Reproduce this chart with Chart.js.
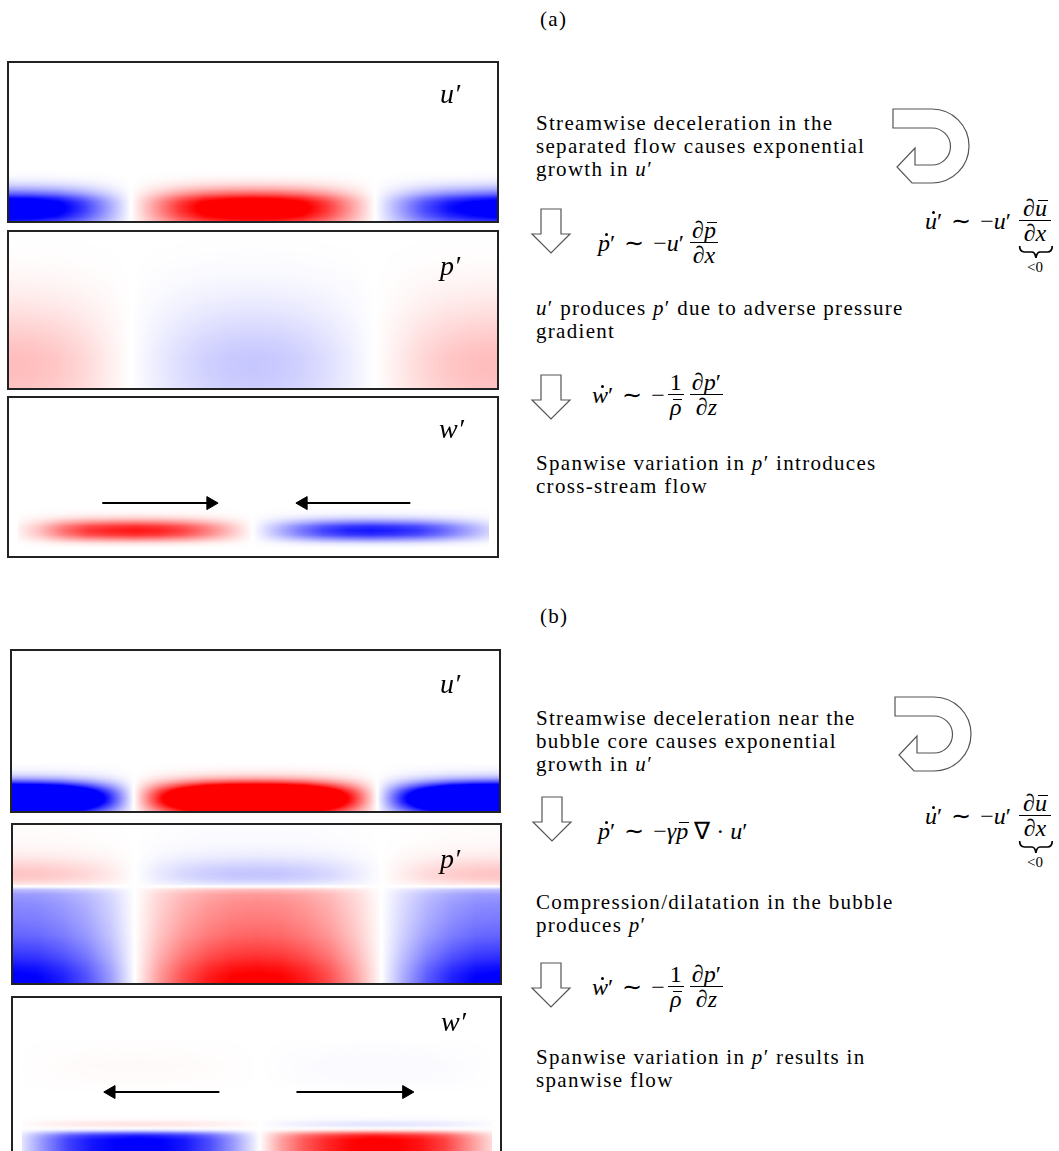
<!DOCTYPE html>
<html>
<head>
<meta charset="utf-8">
<script src="https://cdn.jsdelivr.net/npm/chart.js@4.4.0/dist/chart.umd.min.js"></script>
<style>
body{margin:0;background:#fff;width:1059px;height:1151px;overflow:hidden;position:relative;font-family:"Liberation Serif",serif;color:#000}
.panel{position:absolute;border:2px solid #222;box-sizing:border-box;background:#fff}
.panel canvas{display:block}
.lbl{position:absolute;font-style:italic;font-size:28px;line-height:28px}
.txt{position:absolute;font-size:21px;line-height:23px;letter-spacing:1.3px;white-space:nowrap}
.eq{position:absolute;display:flex;align-items:center;font-family:"Liberation Serif",serif;font-size:24px;line-height:26px;white-space:nowrap}
.fr{display:inline-flex;flex-direction:column;align-items:stretch;text-align:center}
.fr>span{line-height:24px;padding:0 2px}
.fr .num{border-bottom:1px solid #000}
.rel{margin:0 9px}
.acc{position:relative;display:inline-block}
.acc .dot{position:absolute;width:3px;height:3px;border-radius:50%;background:#000;top:3px;left:55%}
.acc .bar{position:absolute;height:0;border-top:1px solid #000;top:4px;left:22%;right:-6%}
.ub{position:relative;display:inline-flex;margin-left:8px}
.ub .fr>span{padding:0 4px}
.ub svg{position:absolute;left:-1px;top:100%;width:calc(100% + 4px);height:14px}
.ub .lt{position:absolute;top:calc(100% + 14px);left:0;right:0;text-align:center;font-size:15px;line-height:16px}
#deco{position:absolute;left:0;top:0}
</style>
</head>
<body>

<div class="txt" style="left:540px;top:8px">(a)</div>
<div class="txt" style="left:540px;top:605px">(b)</div>

<div class="panel" style="left:7px;top:61px;width:492px;height:162px"><canvas id="au" width="488" height="158"></canvas><div class="lbl" style="left:431px;top:17px">u′</div></div>
<div class="panel" style="left:7px;top:230px;width:492px;height:160px"><canvas id="ap" width="488" height="156"></canvas><div class="lbl" style="left:431px;top:20px">p′</div></div>
<div class="panel" style="left:7px;top:396px;width:492px;height:162px"><canvas id="aw" width="488" height="158"></canvas><div class="lbl" style="left:430px;top:17px">w′</div></div>

<div class="panel" style="left:10px;top:649px;width:491px;height:164px"><canvas id="bu" width="487" height="160"></canvas><div class="lbl" style="left:428px;top:19px">u′</div></div>
<div class="panel" style="left:11px;top:823px;width:491px;height:162px"><canvas id="bp" width="487" height="158"></canvas><div class="lbl" style="left:427px;top:20px">p′</div></div>
<div class="panel" style="left:11px;top:996px;width:491px;height:166px"><canvas id="bw" width="487" height="162"></canvas><div class="lbl" style="left:428px;top:10px">w′</div></div>

<div class="txt" style="left:536px;top:112px">Streamwise deceleration in the<br>separated flow causes exponential<br>growth in <i>u</i>′</div>
<div class="txt" style="left:536px;top:297px"><i>u</i>′ produces <i>p</i>′ due to adverse pressure<br>gradient</div>
<div class="txt" style="left:536px;top:452px">Spanwise variation in <i>p</i>′ introduces<br>cross-stream flow</div>

<div class="txt" style="left:536px;top:707px">Streamwise deceleration near the<br>bubble core causes exponential<br>growth in <i>u</i>′</div>
<div class="txt" style="left:536px;top:891px">Compression/dilatation in the bubble<br>produces <i>p</i>′</div>
<div class="txt" style="left:536px;top:1046px">Spanwise variation in <i>p</i>′ results in<br>spanwise flow</div>

<!-- equations (a) -->
<div class="eq" style="left:598px;top:218px">
  <span><span class="acc"><i>p</i><span class="dot"></span></span>′</span><span class="rel">∼</span><span>−<i>u</i>′</span>
  <span class="fr" style="margin-left:6px"><span class="num">∂<span class="acc"><i>p</i><span class="bar"></span></span></span><span>∂<i>x</i></span></span>
</div>
<div class="eq" style="left:925px;top:196px">
  <span><span class="acc"><i>u</i><span class="dot"></span></span>′</span><span class="rel">∼</span><span>−<i>u</i>′</span>
  <span class="ub"><span class="fr"><span class="num">∂<span class="acc"><i>u</i><span class="bar"></span></span></span><span>∂<i>x</i></span></span>
    <svg viewBox="0 0 44 14" preserveAspectRatio="none"><path d="M2,1 Q2,7 8,7 L17,7 Q21,7 22,13 Q23,7 27,7 L36,7 Q42,7 42,1" fill="none" stroke="#000" stroke-width="1.7" vector-effect="non-scaling-stroke"/></svg>
    <span class="lt">&lt;0</span></span>
</div>
<div class="eq" style="left:592px;top:370px">
  <span><span class="acc"><i>w</i><span class="dot"></span></span>′</span><span class="rel">∼</span><span>−</span>
  <span class="fr" style="margin-left:3px"><span class="num">1</span><span><span class="acc"><i>ρ</i><span class="bar"></span></span></span></span>
  <span class="fr" style="margin-left:6px"><span class="num">∂<i>p</i>′</span><span>∂<i>z</i></span></span>
</div>

<!-- equations (b) -->
<div class="eq" style="left:598px;top:818px">
  <span><span class="acc"><i>p</i><span class="dot"></span></span>′</span><span class="rel">∼</span><span>−<i>γ</i><span class="acc"><i>p</i><span class="bar"></span></span> ∇ · <i>u</i>′</span>
</div>
<div class="eq" style="left:925px;top:791px">
  <span><span class="acc"><i>u</i><span class="dot"></span></span>′</span><span class="rel">∼</span><span>−<i>u</i>′</span>
  <span class="ub"><span class="fr"><span class="num">∂<span class="acc"><i>u</i><span class="bar"></span></span></span><span>∂<i>x</i></span></span>
    <svg viewBox="0 0 44 14" preserveAspectRatio="none"><path d="M2,1 Q2,7 8,7 L17,7 Q21,7 22,13 Q23,7 27,7 L36,7 Q42,7 42,1" fill="none" stroke="#000" stroke-width="1.7" vector-effect="non-scaling-stroke"/></svg>
    <span class="lt">&lt;0</span></span>
</div>
<div class="eq" style="left:592px;top:962px">
  <span><span class="acc"><i>w</i><span class="dot"></span></span>′</span><span class="rel">∼</span><span>−</span>
  <span class="fr" style="margin-left:3px"><span class="num">1</span><span><span class="acc"><i>ρ</i><span class="bar"></span></span></span></span>
  <span class="fr" style="margin-left:6px"><span class="num">∂<i>p</i>′</span><span>∂<i>z</i></span></span>
</div>

<svg id="deco" width="1059" height="1151">
  <defs>
    <path id="down" d="M9,0 H29 V25 H38 L19,44 L0,25 H9 Z"/>
    <path id="uturn" d="M0,0 H39 A37,37 0 0 1 39,74 H19 L4,58 L22,39 L22,56 H39 A18.5,18.5 0 0 0 39,19 H0 Z"/>
  </defs>
  <g fill="#fff" stroke="#555" stroke-width="1.2">
    <use href="#down" x="532" y="209"/>
    <use href="#down" x="532" y="375"/>
    <use href="#down" x="533" y="797"/>
    <use href="#down" x="532" y="963"/>
    <use href="#uturn" x="893" y="109"/>
    <use href="#uturn" x="895" y="697"/>
  </g>
</svg>

<script>
// spanwise sample positions (0 = left edge, 1 = right edge)
const spanX = [0, 0.05, 0.1, 0.15, 0.2, 0.25, 0.3, 0.35, 0.4, 0.45, 0.5, 0.55, 0.6, 0.65, 0.7, 0.75, 0.8, 0.85, 0.9, 0.95, 1];

// (a) u'
const auX = [-1.3, -1.25, -1.1, -0.8, -0.4, 0, 0.4, 0.8, 1.1, 1.25, 1.3, 1.25, 1.1, 0.8, 0.4, 0, -0.35, -0.7, -0.95, -1.1, -1.2];
const auZs = [0, 0.03, 0.06, 0.09, 0.12, 0.145, 0.17, 0.2, 0.23, 0.26, 0.29, 0.33, 1];
const auZ = [0.7, 0.88, 0.98, 1, 0.93, 0.75, 0.5, 0.28, 0.13, 0.05, 0.01, 0, 0];

// (a) p'
const apX = [0.26, 0.25, 0.22, 0.16, 0.08, 0, -0.07, -0.13, -0.18, -0.21, -0.22, -0.21, -0.18, -0.13, -0.07, 0, 0.08, 0.16, 0.22, 0.25, 0.26];
const apZs = [0, 0.1, 0.2, 0.3, 0.4, 0.5, 0.6, 0.7, 0.8, 0.9, 1];
const apZ = [0.9, 1, 1, 0.85, 0.65, 0.45, 0.28, 0.15, 0.06, 0.02, 0];

// (a) w'
const awX = [0.05, 0.3, 0.65, 0.9, 1, 1.05, 1, 0.85, 0.6, 0.3, 0, -0.3, -0.6, -0.85, -1, -1.05, -1, -0.9, -0.7, -0.45, -0.2];
const awZs = [0, 0.03, 0.06, 0.09, 0.12, 0.15, 0.18, 0.21, 0.24, 0.28, 1];
const awZ = [0, 0.12, 0.45, 0.78, 0.88, 0.78, 0.45, 0.17, 0.04, 0, 0];
const awArrowFrom = [0.18, 0.834];
const awArrowTo = [0.41, 0.607];
const awArrowY = [0.315, 0.315];

// (b) u'
const buX = [-2.6, -2.5, -2.2, -1.6, -0.85, 0, 0.85, 1.6, 2.2, 2.5, 2.6, 2.5, 2.2, 1.6, 0.85, 0, -0.85, -1.6, -2.2, -2.5, -2.6];
const buZs = [0, 0.03, 0.055, 0.08, 0.105, 0.13, 0.155, 0.18, 0.205, 0.23, 0.26, 0.3, 1];
const buZ = [0.55, 0.8, 0.96, 1, 0.93, 0.75, 0.5, 0.28, 0.13, 0.05, 0.015, 0, 0];

// (b) p'
const bpX = [-1.05, -1.02, -0.9, -0.7, -0.4, 0, 0.4, 0.7, 0.9, 1.02, 1.05, 1.02, 0.9, 0.7, 0.4, 0.05, -0.32, -0.65, -0.88, -1.02, -1.05];
const bpZs = [0, 0.05, 0.1, 0.15, 0.2, 0.3, 0.4, 0.5, 0.56, 0.59, 0.61, 0.63, 0.66, 0.69, 0.72, 0.76, 0.8, 0.85, 0.9, 1];
const bpZ = [1, 0.97, 0.9, 0.8, 0.72, 0.58, 0.5, 0.44, 0.38, 0.25, 0, -0.12, -0.2, -0.22, -0.2, -0.14, -0.08, -0.04, -0.02, -0.01];

// (b) w'
const bwX = [-0.1, -0.45, -0.75, -0.92, -1, -1.05, -1, -0.9, -0.7, -0.4, -0.05, 0.35, 0.65, 0.85, 0.98, 1.05, 1, 0.92, 0.75, 0.45, 0.15];
const bwZs = [0, 0.04, 0.08, 0.11, 0.13, 0.145, 0.16, 0.175, 0.19, 0.205, 0.22, 0.25, 0.4, 0.5, 0.6, 0.7, 0.8, 1];
const bwZ = [1, 1, 1, 0.85, 0.5, 0.15, 0, -0.08, -0.1, -0.07, -0.02, 0, 0, -0.015, -0.02, -0.01, 0, 0];
const bwArrowFrom = [0.421, 0.585];
const bwArrowTo = [0.191, 0.819];
const bwArrowY = [0.41, 0.41];


function lookup(xs, vs, x) {
    if (x <= xs[0]) return vs[0];
    for (let i = 1; i < xs.length; i++) {
        if (x <= xs[i]) {
            const t = (x - xs[i - 1]) / (xs[i] - xs[i - 1]);
            return vs[i - 1] + t * (vs[i] - vs[i - 1]);
        }
    }
    return vs[vs.length - 1];
}

// blue-white-red colour map, clipped at +-1
function bwr(v) {
    v = Math.max(-1, Math.min(1, v));
    if (v >= 0) return [255, 255 * (1 - v), 255 * (1 - v)];
    return [255 * (1 + v), 255 * (1 + v), 255];
}

function heatPlugin(xv, zs, zv) {
    return {
        id: 'heat',
        beforeDatasetsDraw(chart) {
            const { ctx, chartArea: a, scales } = chart;
            const w = Math.round(a.right - a.left), h = Math.round(a.bottom - a.top);
            const cols = [], rows = [];
            for (let i = 0; i < w; i++) cols.push(lookup(spanX, xv, scales.x.getValueForPixel(a.left + i + 0.5)));
            for (let j = 0; j < h; j++) rows.push(lookup(zs, zv, scales.y.getValueForPixel(a.top + j + 0.5)));
            const off = document.createElement('canvas');
            off.width = w; off.height = h;
            const octx = off.getContext('2d');
            const img = octx.createImageData(w, h);
            for (let j = 0; j < h; j++) {
                for (let i = 0; i < w; i++) {
                    const c = bwr(cols[i] * rows[j]);
                    const k = (j * w + i) * 4;
                    img.data[k] = c[0]; img.data[k + 1] = c[1]; img.data[k + 2] = c[2]; img.data[k + 3] = 255;
                }
            }
            octx.putImageData(img, 0, 0);
            ctx.drawImage(off, a.left, a.top);
        },
    };
}

function arrowSets(from, to, ys) {
    return from.map((f, i) => ({
        data: [{ x: f, y: ys[i] }, { x: to[i], y: ys[i] }],
        showLine: true,
        borderColor: '#000',
        borderWidth: 2,
        pointRadius: [0, 7.5],
        pointStyle: 'triangle',
        rotation: [0, to[i] > f ? 90 : -90],
        pointBackgroundColor: '#000',
        pointBorderColor: '#000',
        pointBorderWidth: 1,
    }));
}

function panel(id, xv, zs, zv, sets) {
    new Chart(document.getElementById(id), {
        type: 'scatter',
        data: { datasets: sets || [] },
        options: {
            responsive: false,
            animation: false,
            events: [],
            layout: { padding: 0 },
            scales: {
                x: { type: 'linear', min: 0, max: 1, display: false },
                y: { type: 'linear', min: 0, max: 1, display: false },
            },
            plugins: { legend: { display: false }, tooltip: { enabled: false } },
        },
        plugins: [heatPlugin(xv, zs, zv)],
    });
}

panel('au', auX, auZs, auZ);
panel('ap', apX, apZs, apZ);
panel('aw', awX, awZs, awZ, arrowSets(awArrowFrom, awArrowTo, awArrowY));
panel('bu', buX, buZs, buZ);
panel('bp', bpX, bpZs, bpZ);
panel('bw', bwX, bwZs, bwZ, arrowSets(bwArrowFrom, bwArrowTo, bwArrowY));
</script>
</body>
</html>
